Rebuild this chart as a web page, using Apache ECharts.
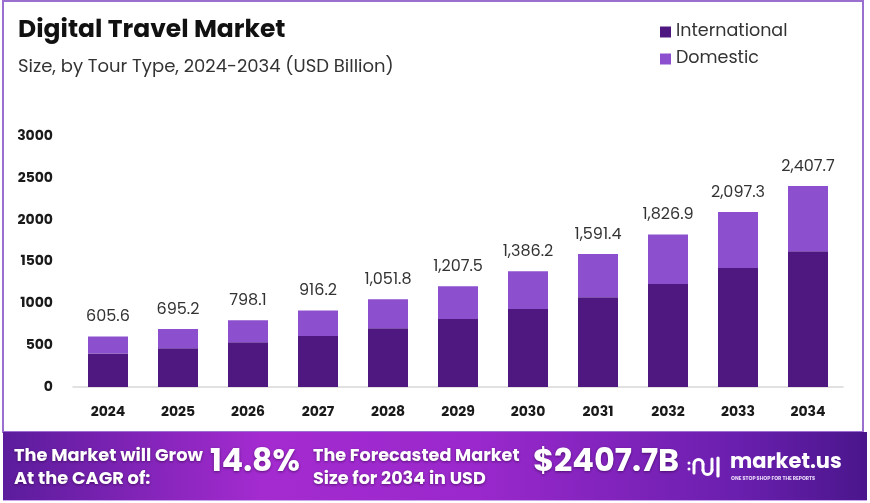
<!DOCTYPE html>
<html>
<head>
<meta charset="utf-8">
<script src="https://cdn.jsdelivr.net/npm/echarts@6/dist/echarts.min.js"></script>
<style>
html,body{margin:0;padding:0;background:#fff;}
#c{width:870px;height:503px;}
</style>
</head>
<body>
<div id="c"></div>
<script>
const years = ['2024','2025','2026','2027','2028','2029','2030','2031','2032','2033','2034'];
const totals = [605.6, 695.2, 798.1, 916.2, 1051.8, 1207.5, 1386.2, 1591.4, 1826.9, 2097.3, 2407.7];
const international = [400, 465, 535, 610, 705, 815, 935, 1075, 1235, 1425, 1625];
const domestic = [205.6, 230.2, 263.1, 306.2, 346.8, 392.5, 451.2, 516.4, 591.9, 672.3, 782.7];
const yTicks = [0, 500, 1000, 1500, 2000, 2500, 3000];

const FONT = 'Poppins, Inter, "Open Sans", sans-serif';
const chart = echarts.init(document.getElementById('c'), null, {renderer: 'canvas'});

function fmt(v){
  return v.toLocaleString('en-US', {minimumFractionDigits:1, maximumFractionDigits:1});
}
const shadow = {textShadowColor: 'rgba(40,0,60,0.6)', textShadowBlur: 3, textShadowOffsetY: 1};
const logoStroke = {stroke: '#fff', lineWidth: 3, fill: 'none', lineCap: 'round'};

const option = {
  backgroundColor: '#ffffff',
  animation: false,
  textStyle: {fontFamily: FONT},
  grid: {left: 73, right: 27, top: 136.5, bottom: 116, containLabel: false},
  legend: {
    data: ['International', 'Domestic'],
    orient: 'vertical',
    left: 655, top: 18,
    itemWidth: 11, itemHeight: 11, itemGap: 9,
    icon: 'rect',
    textStyle: {fontSize: 17.5, color: '#333', fontFamily: FONT}
  },
  xAxis: {
    type: 'category',
    data: years,
    axisLine: {lineStyle: {color: '#d8d8d8', width: 1.5}},
    axisTick: {show: false},
    axisLabel: {fontSize: 14, fontWeight: 'bold', color: '#1a1a1a', margin: 18, fontFamily: FONT}
  },
  yAxis: {
    type: 'value',
    min: yTicks[0], max: yTicks[yTicks.length-1], interval: 500,
    splitLine: {show: false},
    axisLine: {show: false},
    axisTick: {show: false},
    axisLabel: {fontSize: 14, fontWeight: 'bold', color: '#1a1a1a', margin: 20, fontFamily: FONT,
                formatter: v => String(v)}
  },
  series: [
    {
      name: 'International', type: 'bar', stack: 'total', data: international,
      barWidth: 40,
      itemStyle: {color: '#4e1880'}
    },
    {
      name: 'Domestic', type: 'bar', stack: 'total', data: domestic,
      barWidth: 40,
      itemStyle: {color: '#8c50cf'},
      label: {
        show: true, position: 'top', distance: 11,
        fontSize: 16, color: '#333', fontFamily: FONT,
        formatter: p => fmt(totals[p.dataIndex])
      }
    }
  ],
  graphic: [
    {type: 'rect', z: -1, shape: {x: 3, y: 1, width: 860, height: 431},
     style: {fill: 'none', stroke: '#9a6fcf', lineWidth: 2}},
    {type: 'text', left: 18, top: 18,
     style: {text: 'Digital Travel Market', font: 'bold 25px ' + FONT, fill: '#111'}},
    {type: 'text', left: 18, top: 58,
     style: {text: 'Size, by Tour Type, 2024-2034 (USD Billion)', font: '18px ' + FONT, fill: '#333'}},
    {type: 'rect', shape: {x: 3, y: 432, width: 864, height: 69},
     style: {
       fill: new echarts.graphic.LinearGradient(0, 0, 1, 0, [
         {offset: 0, color: '#5b1c9c'},
         {offset: 0.3, color: '#a42bd0'},
         {offset: 0.55, color: '#9a28cc'},
         {offset: 0.85, color: '#6a1fae'},
         {offset: 1, color: '#4a168c'}
       ])
     }},
    {type: 'line', shape: {x1: 3, y1: 500.5, x2: 867, y2: 500.5},
     style: {stroke: '#c9a6ea', lineWidth: 1}},
    {type: 'text', left: 14, top: 445,
     style: Object.assign({text: 'The Market will Grow\nAt the CAGR of:', font: 'bold 17.8px ' + FONT, lineHeight: 23, fill: '#fff'}, shadow)},
    {type: 'text', left: 210, top: 447,
     style: Object.assign({text: '14.8%', font: 'bold 31.5px ' + FONT, fill: '#fff'}, shadow)},
    {type: 'text', left: 313, top: 445,
     style: Object.assign({text: 'The Forecasted Market\nSize for 2034 in USD', font: 'bold 17.6px ' + FONT, lineHeight: 23, fill: '#fff'}, shadow)},
    {type: 'text', left: 533, top: 447,
     style: Object.assign({text: '$2407.7B', font: 'bold 32px ' + FONT, fill: '#fff'}, shadow)},
    {type: 'line', shape: {x1: 694, y1: 473, x2: 694, y2: 464}, style: logoStroke},
    {type: 'arc', shape: {cx: 698.5, cy: 464, r: 4.5, startAngle: Math.PI, endAngle: 2 * Math.PI, clockwise: true}, style: logoStroke},
    {type: 'line', shape: {x1: 703, y1: 464, x2: 703, y2: 470}, style: logoStroke},
    {type: 'arc', shape: {cx: 707.5, cy: 470, r: 4.5, startAngle: 0, endAngle: Math.PI, clockwise: true}, style: logoStroke},
    {type: 'line', shape: {x1: 712, y1: 470, x2: 712, y2: 459}, style: logoStroke},
    {type: 'line', shape: {x1: 718, y1: 458, x2: 718, y2: 476}, style: {stroke: '#fff', lineWidth: 3.2, lineCap: 'round'}},
    {type: 'circle', shape: {cx: 689, cy: 463, r: 1.5}, style: {fill: '#fff'}},
    {type: 'circle', shape: {cx: 689, cy: 469, r: 1.5}, style: {fill: '#fff'}},
    {type: 'text', left: 730, top: 452,
     style: {text: 'market.us', font: 'bold 21px ' + FONT, fill: '#fff'}},
    {type: 'text', left: 731, top: 476,
     style: {text: 'ONE STOP SHOP FOR THE REPORTS', font: 'bold 5px ' + FONT, fill: '#e8d8f8'}}
  ]
};
chart.setOption(option);
</script>
</body>
</html>
